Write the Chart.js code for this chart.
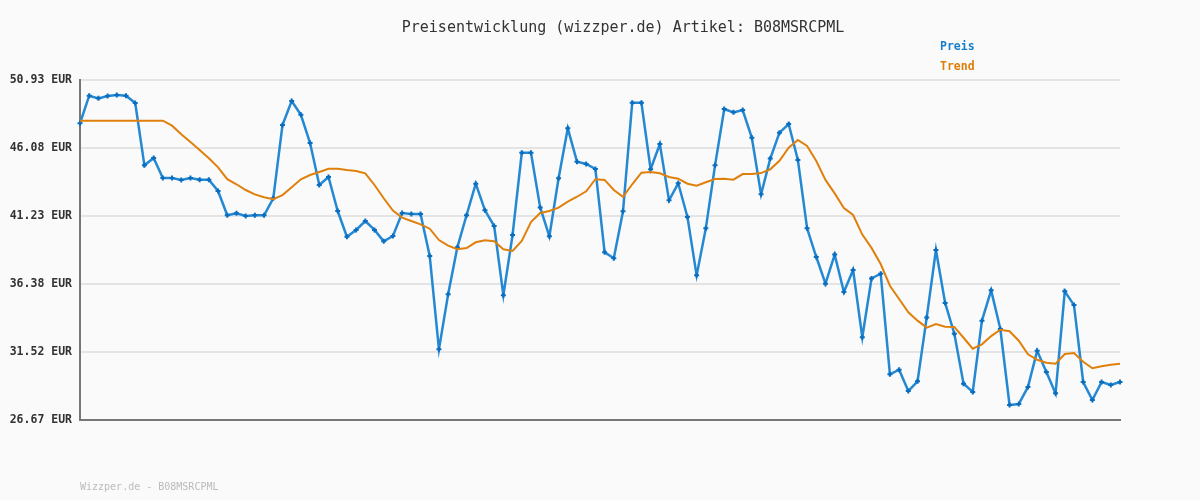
<!DOCTYPE html>
<html>
<head>
<meta charset="utf-8">
<script src="https://cdn.jsdelivr.net/npm/chart.js@4.4.1/dist/chart.umd.min.js"></script>
<style>
  html, body { margin: 0; padding: 0; background: #fafafa; }
  #wrap { width: 1200px; height: 500px; position: relative; }
</style>
</head>
<body>
<div id="wrap"><canvas id="priceChart" width="1200" height="500"></canvas></div>
<script>
// price history
var preis = [
  47.84, 49.81, 49.62, 49.79, 49.86, 49.81, 49.29, 44.84, 45.36, 43.94,
  43.94, 43.80, 43.94, 43.82, 43.82, 43.01, 41.28, 41.42, 41.23, 41.28,
  41.28, 42.49, 47.72, 49.43, 48.45, 46.43, 43.44, 44.01, 41.58, 39.75,
  40.23, 40.87, 40.23, 39.42, 39.80, 41.44, 41.37, 41.37, 38.37, 31.71,
  35.64, 38.99, 41.28, 43.53, 41.63, 40.51, 35.57, 39.87, 45.74, 45.74,
  41.84, 39.78, 43.92, 47.48, 45.10, 44.94, 44.58, 38.64, 38.21, 41.56,
  49.31, 49.31, 44.56, 46.36, 42.35, 43.56, 41.16, 36.99, 40.35, 44.84,
  48.86, 48.62, 48.79, 46.81, 42.77, 45.32, 47.17, 47.79, 45.22, 40.35,
  38.30, 36.40, 38.47, 35.80, 37.37, 32.57, 36.77, 37.11, 29.93, 30.26,
  28.74, 29.43, 33.99, 38.80, 35.02, 32.83, 29.26, 28.67, 33.76, 35.92,
  33.16, 27.74, 27.81, 29.03, 31.61, 30.10, 28.57, 35.85, 34.87, 29.38,
  28.10, 29.38, 29.17, 29.38
];
var trend = [
  48.03, 48.03, 48.03, 48.03, 48.03, 48.03, 48.03, 48.03, 48.03, 48.03,
  47.67, 47.06, 46.51, 45.94, 45.34, 44.70, 43.85, 43.49, 43.08, 42.77,
  42.56, 42.42, 42.72, 43.27, 43.85, 44.15, 44.37, 44.60, 44.60, 44.51,
  44.44, 44.27, 43.44, 42.49, 41.61, 41.11, 40.87, 40.63, 40.32, 39.51,
  39.11, 38.85, 38.94, 39.35, 39.49, 39.42, 38.85, 38.73, 39.44, 40.80,
  41.44, 41.58, 41.82, 42.25, 42.60, 42.99, 43.85, 43.80, 43.08, 42.60,
  43.49, 44.32, 44.37, 44.27, 44.01, 43.89, 43.53, 43.39, 43.63, 43.87,
  43.89, 43.82, 44.22, 44.22, 44.29, 44.56, 45.17, 46.10, 46.65, 46.22,
  45.15, 43.80, 42.84, 41.80, 41.30, 39.90, 38.95, 37.80, 36.25, 35.30,
  34.35, 33.76, 33.26, 33.52, 33.33, 33.31, 32.54, 31.76, 32.07, 32.66,
  33.11, 33.00, 32.33, 31.36, 30.97, 30.76, 30.69, 31.38, 31.45, 30.83,
  30.36, 30.50, 30.62, 30.69
];
var yTicks = [26.67, 31.52, 36.38, 41.23, 46.08, 50.93];
var labels = preis.map(function (v, i) { return String(i + 1); });

var titleText = 'Preisentwicklung (wizzper.de) Artikel: B08MSRCPML';
var footerText = 'Wizzper.de - B08MSRCPML';
var mono = '"DejaVu Sans Mono", "Liberation Mono", monospace';

// title, legend and footer drawn on the canvas
var textPlugin = {
  id: 'wizzperText',
  beforeDraw: function (chart) {
    var ctx = chart.ctx;
    ctx.save();
    ctx.fillStyle = '#fafafa';
    ctx.fillRect(0, 0, chart.width, chart.height);
    ctx.restore();
  },
  afterDraw: function (chart) {
    var ctx = chart.ctx;
    ctx.save();
    ctx.textBaseline = 'middle';
    ctx.font = '15px ' + mono;
    ctx.fillStyle = '#333';
    ctx.textAlign = 'center';
    ctx.fillText(titleText, 623, 28);

    ctx.textAlign = 'left';
    ctx.font = 'bold 11.5px ' + mono;
    ctx.fillStyle = '#1a7fc8';
    ctx.fillText('Preis', 940, 47);
    ctx.fillStyle = '#de7d0a';
    ctx.fillText('Trend', 940, 67);

    ctx.font = '10px ' + mono;
    ctx.fillStyle = '#bbbbbb';
    ctx.fillText(footerText, 80, 487);
    ctx.restore();
  }
};

var chartCtx = document.getElementById('priceChart').getContext('2d');
window.priceChart = new Chart(chartCtx, {
  type: 'line',
  data: {
    labels: labels,
    datasets: [{
      label: 'Preis',
      data: preis,
      borderColor: '#2489d2',
      borderWidth: 2.5,
      pointStyle: 'cross',
      pointRadius: 2.5,
      pointBorderWidth: 2,
      pointBorderColor: '#0a6ec0',
      pointBackgroundColor: '#0a6ec0',
      tension: 0,
      order: 2
    }, {
      label: 'Trend',
      data: trend,
      borderColor: '#e0800c',
      borderWidth: 2,
      pointRadius: 0,
      tension: 0,
      order: 1
    }]
  },
  options: {
    responsive: false,
    animation: false,
    layout: { padding: { top: 80, right: 80, bottom: 80, left: 0 } },
    plugins: {
      legend: { display: false },
      title: { display: false },
      tooltip: { enabled: false }
    },
    scales: {
      x: {
        offset: false,
        ticks: { display: false },
        grid: { display: false, drawTicks: false },
        border: { display: true, color: '#777777', width: 2 }
      },
      y: {
        min: 26.67,
        max: 50.93,
        afterBuildTicks: function (axis) {
          axis.ticks = yTicks.map(function (v) { return { value: v }; });
        },
        afterFit: function (axis) { axis.width = 80; },
        ticks: {
          padding: 8,
          color: '#333',
          font: { family: mono, size: 11.5, weight: 'bold' },
          callback: function (v) { return Number(v).toFixed(2) + ' EUR'; }
        },
        grid: { color: '#e4e4e4', lineWidth: 2, drawTicks: false },
        border: { display: true, color: '#777777', width: 2 }
      }
    }
  },
  plugins: [textPlugin]
});
</script>
</body>
</html>
